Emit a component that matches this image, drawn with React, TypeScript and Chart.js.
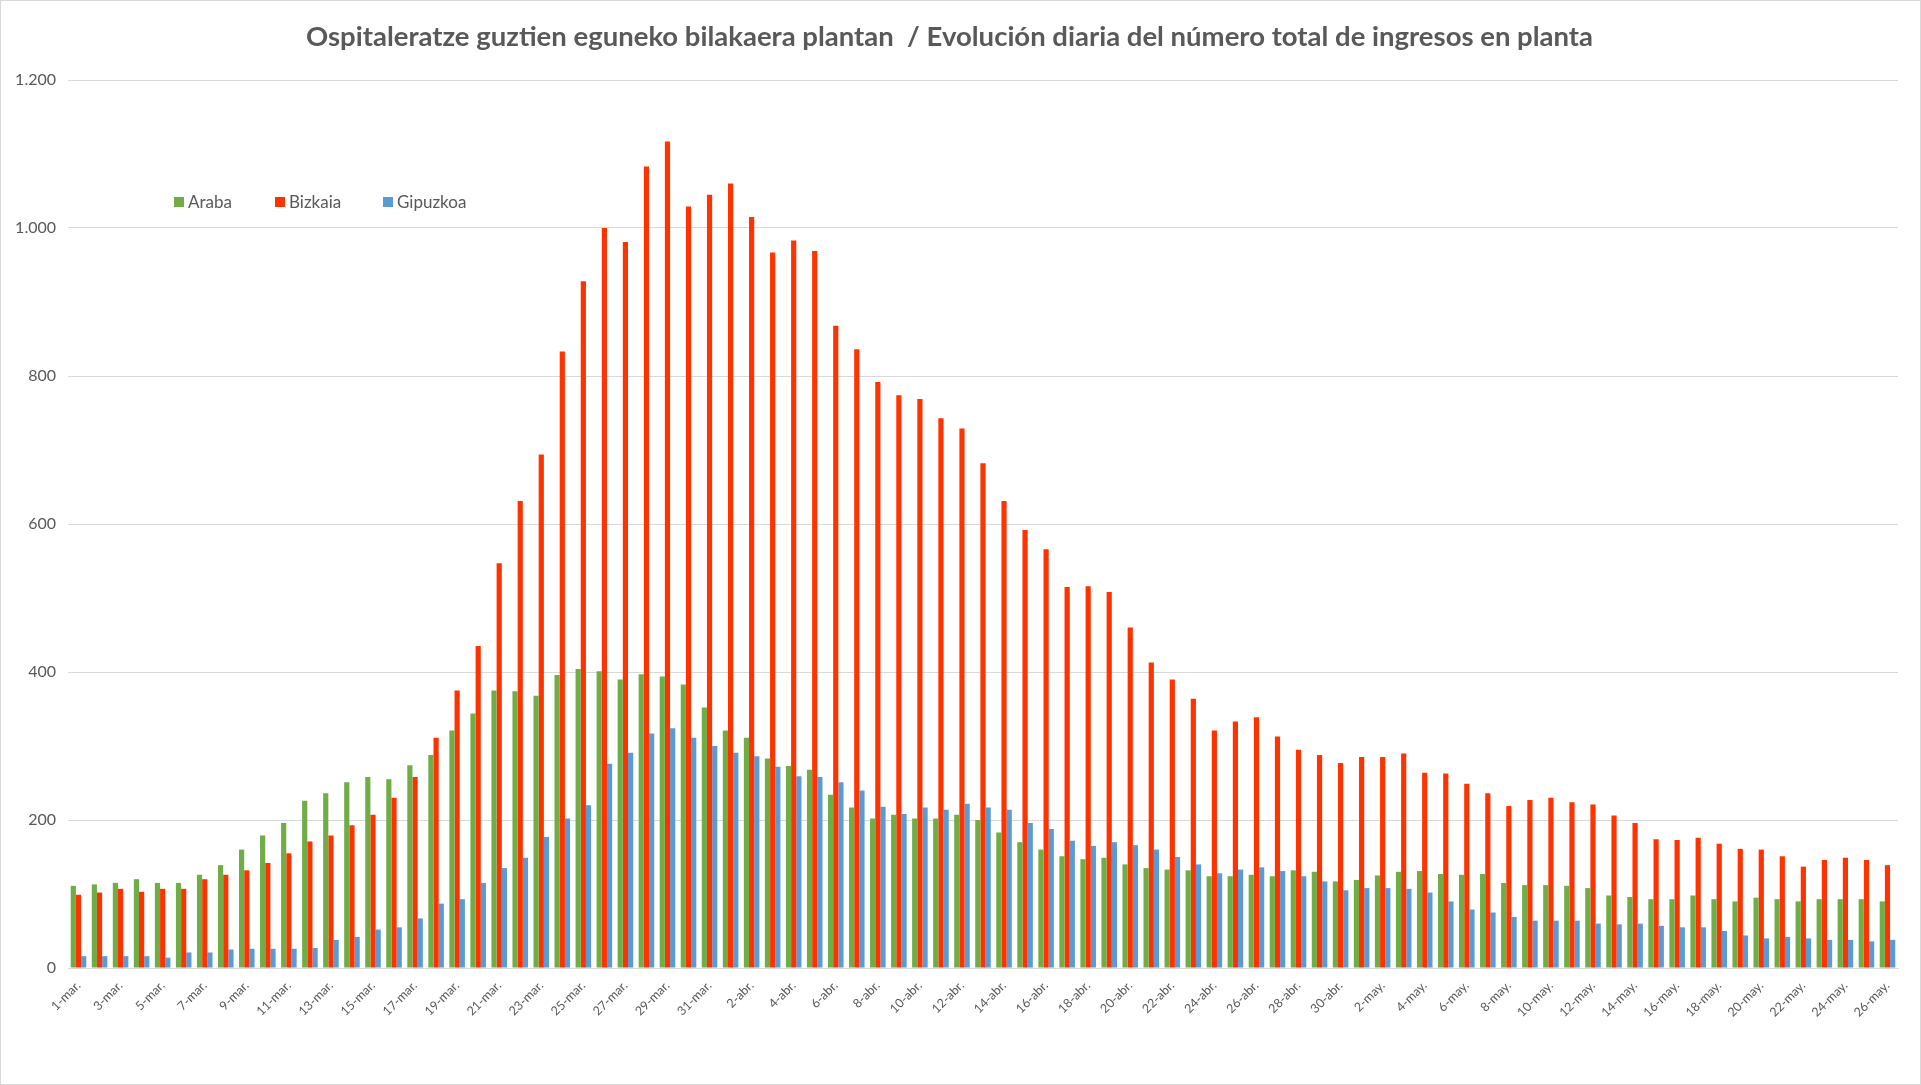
import React, { useEffect, useRef } from 'react';
import { Chart, registerables } from 'chart.js';

Chart.register(...registerables);

const TITLE = 'Ospitaleratze guztien eguneko bilakaera plantan  / Evolución diaria del número total de ingresos en planta';

const categories: string[] = [
  '1-mar.', '2-mar.', '3-mar.', '4-mar.', '5-mar.', '6-mar.', '7-mar.', '8-mar.', '9-mar.', '10-mar.',
  '11-mar.', '12-mar.', '13-mar.', '14-mar.', '15-mar.', '16-mar.', '17-mar.', '18-mar.', '19-mar.', '20-mar.',
  '21-mar.', '22-mar.', '23-mar.', '24-mar.', '25-mar.', '26-mar.', '27-mar.', '28-mar.', '29-mar.', '30-mar.', '31-mar.',
  '1-abr.', '2-abr.', '3-abr.', '4-abr.', '5-abr.', '6-abr.', '7-abr.', '8-abr.', '9-abr.', '10-abr.',
  '11-abr.', '12-abr.', '13-abr.', '14-abr.', '15-abr.', '16-abr.', '17-abr.', '18-abr.', '19-abr.', '20-abr.',
  '21-abr.', '22-abr.', '23-abr.', '24-abr.', '25-abr.', '26-abr.', '27-abr.', '28-abr.', '29-abr.', '30-abr.',
  '1-may.', '2-may.', '3-may.', '4-may.', '5-may.', '6-may.', '7-may.', '8-may.', '9-may.', '10-may.',
  '11-may.', '12-may.', '13-may.', '14-may.', '15-may.', '16-may.', '17-may.', '18-may.', '19-may.', '20-may.',
  '21-may.', '22-may.', '23-may.', '24-may.', '25-may.', '26-may.',
];

const araba: number[] = [
  111, 113, 115, 120, 115, 115, 126, 139, 160, 179, 196, 226, 236, 251, 258, 255, 274, 288, 321, 344, 375, 374, 368, 396, 404, 401, 390, 397, 394, 383, 352,
  321, 311, 283, 273, 268, 234, 217, 202, 207, 202, 202, 207, 200, 183, 170, 160, 151, 147, 149, 140, 135, 133, 132, 124, 124, 126, 124, 132, 130, 117,
  119, 125, 130, 131, 127, 126, 127, 115, 112, 112, 111, 108, 98, 96, 93, 93, 98, 93, 90, 95, 93, 90, 93, 93, 93, 90,
];

const bizkaia: number[] = [
  99, 102, 107, 103, 107, 107, 120, 126, 132, 142, 155, 171, 179, 193, 207, 230, 258, 311, 375, 435, 547, 631, 694, 833, 928, 1000, 981, 1083, 1117, 1029, 1045,
  1060, 1015, 967, 983, 969, 868, 836, 792, 774, 769, 743, 729, 682, 631, 592, 566, 515, 516, 508, 460, 413, 390, 364, 321, 333, 339, 313, 295, 288, 277,
  285, 285, 290, 264, 263, 249, 236, 219, 227, 230, 224, 221, 206, 196, 174, 173, 176, 168, 161, 160, 151, 137, 146, 149, 146, 139,
];

const gipuzkoa: number[] = [
  16, 16, 16, 16, 14, 21, 21, 25, 26, 26, 26, 27, 38, 42, 52, 55, 67, 87, 93, 115, 135, 149, 177, 202, 220, 276, 291, 317, 324, 311, 300,
  291, 286, 272, 259, 258, 251, 240, 218, 208, 217, 214, 222, 217, 214, 196, 188, 172, 165, 170, 166, 160, 150, 140, 128, 133, 136, 131, 124, 117, 105,
  108, 108, 107, 102, 90, 79, 75, 69, 64, 64, 64, 60, 59, 60, 57, 55, 55, 50, 44, 40, 42, 40, 38, 38, 36, 38,
];

const seriesNames: string[] = ['Araba', 'Bizkaia', 'Gipuzkoa'];
const seriesColors: string[] = ['#70AD47', '#FF3300', '#5B9BD5'];
const yTicks: number[] = [0, 200, 400, 600, 800, 1000, 1200];

const TEXT = '#595959';
const FONT = 'Lato, "Open Sans", sans-serif';

const fmt = (v: number) => String(v).replace(/\B(?=(\d{3})+(?!\d))/g, '.');

const insideLegend = {
  id: 'insideLegend',
  afterDraw(chart: any) {
    const ctx = chart.ctx;
    const boxX = [173, 274, 382];
    const y = 201;
    ctx.save();
    ctx.font = `17px ${FONT}`;
    ctx.textBaseline = 'middle';
    ctx.textAlign = 'left';
    chart.data.datasets.forEach((ds: any, i: number) => {
      ctx.fillStyle = ds.backgroundColor;
      ctx.fillRect(boxX[i], y - 5, 10, 10);
      ctx.fillStyle = TEXT;
      ctx.fillText(ds.label, boxX[i] + 14, y + 1);
    });
    ctx.restore();
  },
};

export default function App() {
  const ref = useRef<HTMLCanvasElement | null>(null);

  useEffect(() => {
    if (!ref.current) return;
    const seriesData = [araba, bizkaia, gipuzkoa];
    const chart = new Chart(ref.current, {
      type: 'bar',
      data: {
        labels: categories,
        datasets: seriesNames.map((name, i) => ({
          label: name,
          data: seriesData[i],
          backgroundColor: seriesColors[i],
          borderWidth: 0,
          categoryPercentage: 0.74,
          barPercentage: 1.0,
        })),
      },
      options: {
        responsive: false,
        animation: false,
        devicePixelRatio: 1,
        layout: { padding: { left: 0, right: 22, top: 0, bottom: 0 } },
        plugins: {
          legend: { display: false },
          tooltip: { enabled: false },
          title: {
            display: true,
            text: TITLE,
            color: TEXT,
            font: { family: FONT, size: 27.5, weight: 'bold' },
            padding: { top: 20, bottom: 26 },
          },
        },
        scales: {
          x: {
            offset: true,
            grid: { display: false },
            border: { display: true, color: '#D9D9D9' },
            ticks: {
              autoSkip: false,
              maxRotation: 45,
              minRotation: 45,
              color: TEXT,
              font: { family: FONT, size: 12.5 },
              padding: 2,
              callback: (_v: any, i: number) => (i % 2 === 0 ? categories[i] : ''),
            },
            afterFit: (s: any) => {
              s.height = 116;
            },
          },
          y: {
            min: yTicks[0],
            max: yTicks[yTicks.length - 1],
            grid: { color: '#D9D9D9', drawTicks: false },
            border: { display: false },
            ticks: {
              stepSize: yTicks[1] - yTicks[0],
              color: TEXT,
              font: { family: FONT, size: 16 },
              padding: 12,
              callback: (v: any) => fmt(Number(v)),
            },
            afterFit: (s: any) => {
              s.width = 67;
            },
          },
        },
      },
      plugins: [insideLegend],
    } as any);
    return () => chart.destroy();
  }, []);

  return (
    <div
      style={{
        position: 'fixed',
        left: 0,
        top: 0,
        width: 1921,
        height: 1085,
        background: '#fff',
        boxSizing: 'border-box',
        border: '1px solid #D9D9D9',
        overflow: 'hidden',
      }}
    >
      <canvas ref={ref} width={1919} height={1083} style={{ display: 'block' }} />
    </div>
  );
}
